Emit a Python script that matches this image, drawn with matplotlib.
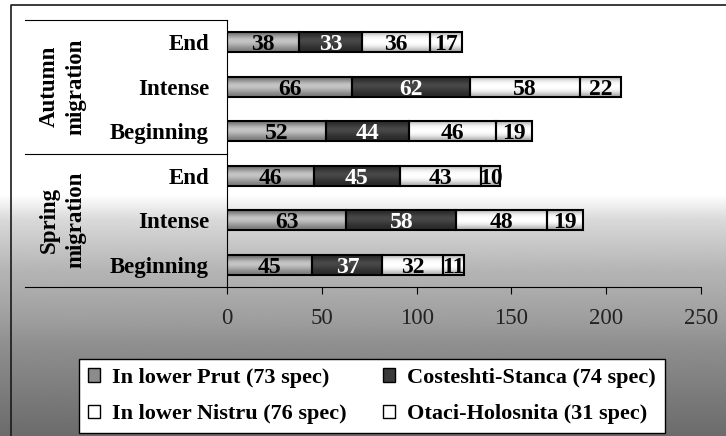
import numpy as np
import matplotlib
matplotlib.use('Agg')
import matplotlib.pyplot as plt
from matplotlib.patches import Patch
from matplotlib.lines import Line2D
import matplotlib.transforms as mtransforms

# stages, listed bottom to top as they sit on the axis
stages = ['Beginning', 'Intense', 'End', 'Beginning', 'Intense', 'End']
groups = ['Spring\nmigration', 'Autumn\nmigration']

lower_prut = [45, 63, 46, 52, 66, 38]
costeshti = [37, 58, 45, 44, 62, 33]
lower_nistru = [32, 48, 43, 46, 58, 36]
otaci = [11, 19, 10, 19, 22, 17]

names = ['In lower Prut (73 spec)', 'Costeshti-Stanca (74 spec)',
         'In lower Nistru (76 spec)', 'Otaci-Holosnita (31 spec)']

plt.rcParams['font.family'] = ['Liberation Serif', 'DejaVu Serif']

W, H = 726, 436
fig = plt.figure(figsize=(W / 100, H / 100), dpi=100)

# grey fade behind the lower part of the figure
bg = fig.add_axes([0, 0, 1, 1], zorder=-10)
rows = np.arange(H)
shade = np.interp(rows, [0, 195, 220, 270, 320, 345, 436],
                  [1.0, 1.0, 0.85, 0.71, 0.62, 0.56, 0.42])
bg.imshow(np.tile(shade[:, None], (1, 4)), cmap='gray', vmin=0, vmax=1,
          aspect='auto', extent=[0, 1, 0, 1], interpolation='bilinear')
bg.axis('off')

# outer frame (left and top edges only reach inside the image)
fig.add_artist(Line2D([11 / W, 11 / W, 1], [0, 1 - 5 / H, 1 - 5 / H],
                      transform=fig.transFigure, color='#1a1a1a', lw=1.2))

x0, x1 = 227, 701
y_top, y_bot = 20, 287
ax = fig.add_axes([x0 / W, 1 - y_bot / H, (x1 - x0) / W, (y_bot - y_top) / H])
ax.patch.set_alpha(0)

series = [lower_prut, costeshti, lower_nistru, otaci]
# vertical shading profiles of each segment (top -> bottom)
profiles = [
    [0.42, 0.62, 0.80, 0.74, 0.60, 0.48],
    [0.16, 0.22, 0.30, 0.26, 0.20, 0.16],
    [0.72, 0.95, 1.0, 1.0, 0.92, 0.70],
    [0.68, 0.93, 1.0, 1.0, 0.90, 0.66],
]
text_colors = ['black', 'white', 'black', 'black']
ypos = np.arange(len(stages))
left = np.zeros(len(stages))
for vals, prof, tc in zip(series, profiles, text_colors):
    bars = ax.barh(ypos, vals, left=left, height=0.45, facecolor='none',
                   edgecolor='black', linewidth=1.5, zorder=3)
    grad = np.array(prof)[:, None]
    for p in bars:
        bx, by = p.get_x(), p.get_y()
        im = ax.imshow(grad, cmap='gray', vmin=0, vmax=1, aspect='auto',
                       extent=[bx, bx + p.get_width(), by, by + p.get_height()],
                       interpolation='bicubic', zorder=2)
        im.set_clip_path(p)
    txts = ax.bar_label(bars, labels=[str(v) for v in vals], label_type='center',
                        color=tc, fontsize=17, fontweight='bold', zorder=4)
    for t in txts:
        t.set_va('center_baseline')
    left += np.array(vals)

ax.set_xlim(0, 250)
ax.set_ylim(-0.5, 5.5)
ax.set_xticks([0, 50, 100, 150, 200, 250])
ax.set_yticks(ypos)
ax.set_yticklabels(stages, fontsize=16.5, fontweight='bold')
ax.tick_params(axis='y', length=0, pad=13)
ax.tick_params(axis='x', direction='out', length=5, width=0.8, pad=10,
               labelsize=16.5, labelcolor='#222222')
for s in ['top', 'right']:
    ax.spines[s].set_visible(False)
for s in ['left', 'bottom']:
    ax.spines[s].set_linewidth(0.8)

# group boxes to the left of the axis
trans = mtransforms.blended_transform_factory(ax.transAxes, ax.transData)
xl = (25 - x0) / (x1 - x0)
for yy in [5.5, 2.5, -0.5]:
    ax.plot([xl, 0], [yy, yy], color='black', lw=0.8, transform=trans,
            clip_on=False)
gx = (63 - x0) / (x1 - x0)
for g, yc in zip(groups, [1.0, 4.0]):
    ax.text(gx, yc, g, transform=trans, rotation=90, ha='center', va='center',
            multialignment='center', fontsize=16.5, fontweight='bold',
            linespacing=1.35)

handles = [Patch(facecolor=c, edgecolor='black', linewidth=1)
           for c in ['#8c8c8c', '#3a3a3a', 'white', 'white']]
order = [0, 2, 1, 3]
leg = ax.legend([handles[i] for i in order], [names[i] for i in order],
                ncol=2, loc='upper left', bbox_to_anchor=(79 / W, 1 - 359 / H),
                bbox_transform=fig.transFigure, borderaxespad=0,
                prop={'size': 16, 'weight': 'bold'}, frameon=True,
                fancybox=False, edgecolor='black', framealpha=1,
                handlelength=0.55, handleheight=0.55, handletextpad=0.55,
                columnspacing=1.6, labelspacing=0.73, borderpad=0.4)
leg.get_frame().set_linewidth(1)

plt.savefig('out.png', dpi=100)
